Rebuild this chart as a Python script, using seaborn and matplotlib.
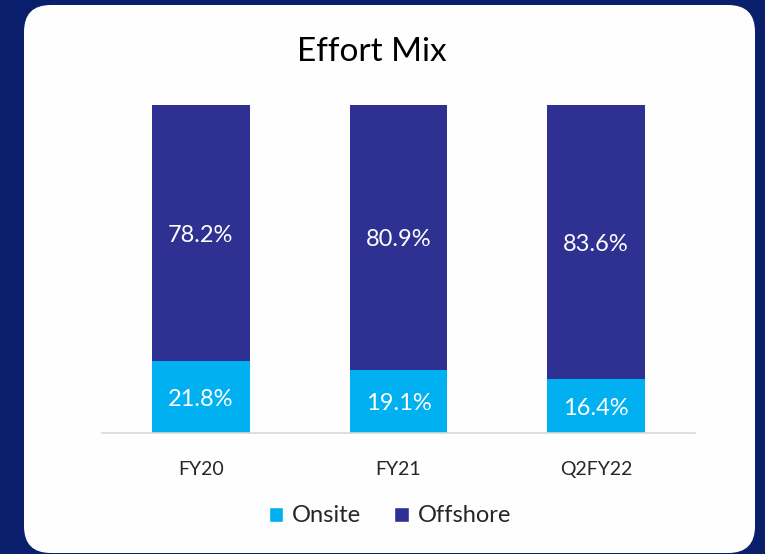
import matplotlib
matplotlib.use("Agg")
import matplotlib.pyplot as plt
from matplotlib.patches import FancyBboxPatch, Patch
import seaborn as sns
import pandas as pd

categories = ["FY20", "FY21", "Q2FY22"]
onsite = [21.8, 19.1, 16.4]
offshore = [78.2, 80.9, 83.6]
series_names = ["Onsite", "Offshore"]
title = "Effort Mix"

c_on = "#00B0F0"
c_off = "#2E3192"

sns.set_theme(style="white")
plt.rcParams['font.family'] = ['Lato', 'DejaVu Sans']

W, H = 765, 554
fig = plt.figure(figsize=(W / 100, H / 100), dpi=100)
fig.patch.set_facecolor("#0A1F6C")

panel = FancyBboxPatch((24 / W, 1 / H), (755 - 24) / W, (549 - 1) / H,
                       boxstyle="round,pad=0,rounding_size=0.035",
                       transform=fig.transFigure, facecolor="#FEFEFE",
                       edgecolor="none", mutation_aspect=W / H, zorder=-5)
fig.patches.append(panel)

ax = fig.add_axes([102 / W, (H - 433) / H, (695 - 102) / W, (433 - 105) / H])
ax.set_facecolor("none")
ax.set_zorder(2)

df = pd.DataFrame({"cat": categories,
                   "total": [a + b for a, b in zip(onsite, offshore)],
                   "onsite": onsite, "offshore": offshore})

sns.barplot(data=df, x="cat", y="total", color=c_off, width=0.495,
            saturation=1, ax=ax, order=categories, linewidth=0)
sns.barplot(data=df, x="cat", y="onsite", color=c_on, width=0.495,
            saturation=1, ax=ax, order=categories, linewidth=0)

for i, (a, b) in enumerate(zip(onsite, offshore)):
    ax.text(i, a / 2, f"{a:.1f}%", ha="center", va="center_baseline",
            color="white", fontsize=17)
    ax.text(i, a + b / 2, f"{b:.1f}%", ha="center", va="center_baseline",
            color="white", fontsize=17)

ax.set_xlim(-0.5, 2.5)
ax.set_ylim(0, 100)
ax.set_xlabel("")
ax.set_ylabel("")
ax.set_yticks([])
for s in ["top", "right", "left"]:
    ax.spines[s].set_visible(False)
ax.spines["bottom"].set_color("#D9D9D9")
ax.spines["bottom"].set_linewidth(1.2)
ax.tick_params(axis="x", length=0, pad=20, labelsize=14, colors="#262626")

fig.text(372 / W, 1 - 52 / H, title, ha="center", va="center",
         fontsize=24, color="black")

handles = [Patch(facecolor=c_on), Patch(facecolor=c_off)]
fig.legend(handles, series_names, loc="center", bbox_to_anchor=(390 / W, 1 - 516 / H),
           ncol=2, frameon=False, fontsize=17, handlelength=0.6, handleheight=0.6,
           handletextpad=0.4, columnspacing=1.4, labelcolor="#262626")

fig.savefig("out.png", dpi=100, facecolor=fig.get_facecolor())
